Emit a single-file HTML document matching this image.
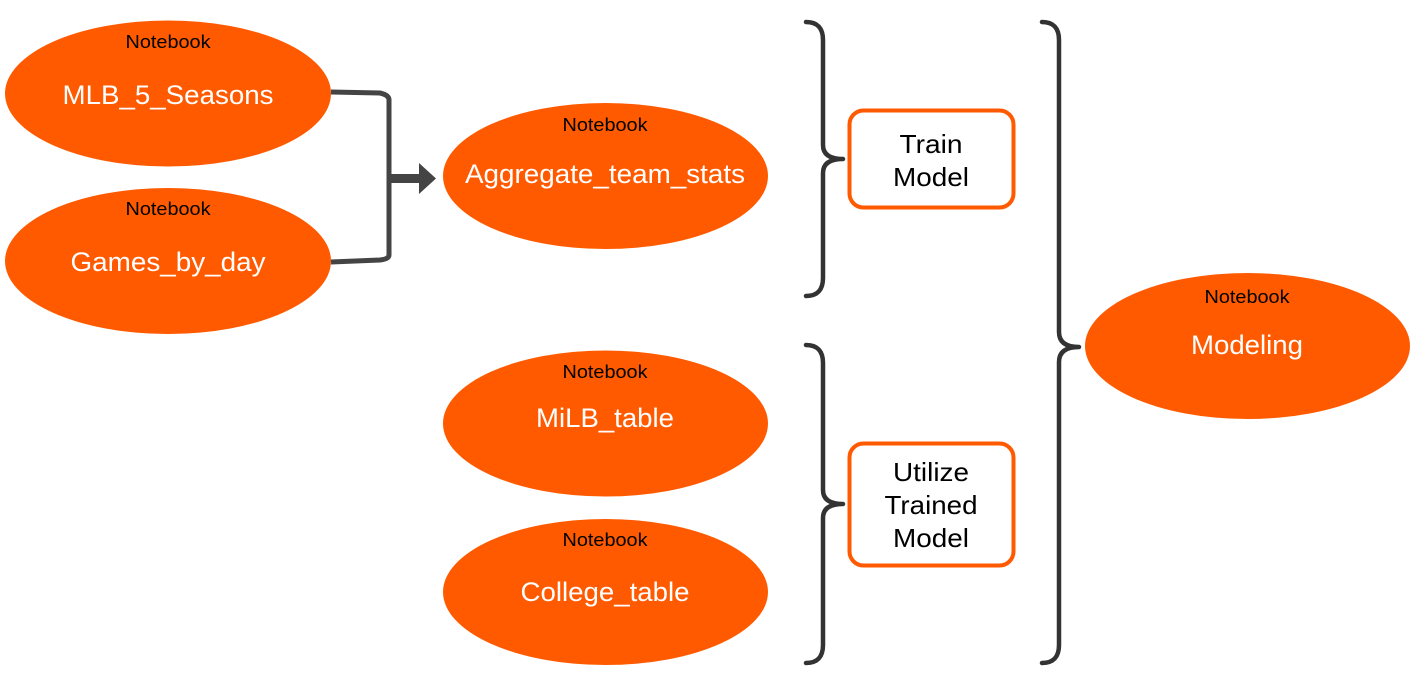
<!DOCTYPE html>
<html><head><meta charset="utf-8"><style>
html,body{margin:0;padding:0;background:#fff;font-family:"Liberation Sans",Arial,Helvetica,sans-serif;}
svg{display:block;}
svg text{font-family:"Liberation Sans",Arial,Helvetica,sans-serif;}
.br{fill:none;stroke:#333;stroke-width:4.5;stroke-linecap:round;stroke-linejoin:round;}
</style></head><body>
<svg width="1419" height="680" viewBox="0 0 1419 680" xmlns="http://www.w3.org/2000/svg" font-family="Liberation Sans, Arial, sans-serif">
<g fill="#FF5A00">
<ellipse cx="168" cy="93.5" rx="163" ry="73"/>
<ellipse cx="168" cy="261" rx="163" ry="73"/>
<ellipse cx="605.5" cy="176" rx="162.5" ry="73"/>
<ellipse cx="605.5" cy="423.5" rx="162.5" ry="73"/>
<ellipse cx="605.5" cy="592" rx="162.5" ry="73"/>
<ellipse cx="1247.5" cy="346" rx="162.5" ry="73"/>
</g>
<g font-size="18.5" fill="#000" text-anchor="middle">
<text x="168" y="48" textLength="85" lengthAdjust="spacingAndGlyphs">Notebook</text>
<text x="168" y="215" textLength="85" lengthAdjust="spacingAndGlyphs">Notebook</text>
<text x="605" y="131" textLength="85" lengthAdjust="spacingAndGlyphs">Notebook</text>
<text x="605" y="378" textLength="85" lengthAdjust="spacingAndGlyphs">Notebook</text>
<text x="605" y="546" textLength="85" lengthAdjust="spacingAndGlyphs">Notebook</text>
<text x="1247" y="303" textLength="85" lengthAdjust="spacingAndGlyphs">Notebook</text>
</g>
<g font-size="27" fill="#fff" text-anchor="middle">
<text x="168" y="104" textLength="211" lengthAdjust="spacingAndGlyphs">MLB_5_Seasons</text>
<text x="168" y="271" textLength="195" lengthAdjust="spacingAndGlyphs">Games_by_day</text>
<text x="605" y="183" textLength="280" lengthAdjust="spacingAndGlyphs">Aggregate_team_stats</text>
<text x="605" y="427" textLength="138" lengthAdjust="spacingAndGlyphs">MiLB_table</text>
<text x="605" y="601" textLength="169" lengthAdjust="spacingAndGlyphs">College_table</text>
<text x="1247" y="354" textLength="112" lengthAdjust="spacingAndGlyphs">Modeling</text>
</g>

<path d="M331 92 L380 93 Q389 95 389 100 L389 255 Q389 259 380 260 L331 262" fill="none" stroke="#444" stroke-width="5"/>
<rect x="389" y="174" width="32" height="9" fill="#444"/>
<polygon points="419,163 436,178.5 419,194" fill="#444"/>

<path class="br" d="M806 22 Q823 22 823 40 L823 145 Q823 159 843 159 Q823 159 823 173 L823 278 Q823 296 806 296"/>
<path class="br" d="M806 345 Q823 345 823 363 L823 490 Q823 504 843 504 Q823 504 823 518 L823 645 Q823 663 806 663"/>
<path class="br" d="M1042 22 Q1059 22 1059 40 L1059 332 Q1059 347 1079 347 Q1059 347 1059 362 L1059 645 Q1059 663 1042 663"/>

<rect x="849.5" y="110.5" width="164" height="97" rx="14" fill="#fff" stroke="#FF5A00" stroke-width="4"/>
<rect x="849.5" y="443.5" width="164" height="122" rx="14" fill="#fff" stroke="#FF5A00" stroke-width="4"/>
<g font-size="26" fill="#000" text-anchor="middle">
<text x="931" y="153" textLength="63" lengthAdjust="spacingAndGlyphs">Train</text>
<text x="931" y="186" textLength="76" lengthAdjust="spacingAndGlyphs">Model</text>
<text x="931" y="481" textLength="76" lengthAdjust="spacingAndGlyphs">Utilize</text>
<text x="931" y="514" textLength="93" lengthAdjust="spacingAndGlyphs">Trained</text>
<text x="931" y="547" textLength="76" lengthAdjust="spacingAndGlyphs">Model</text>
</g>
</svg>
</body></html>
